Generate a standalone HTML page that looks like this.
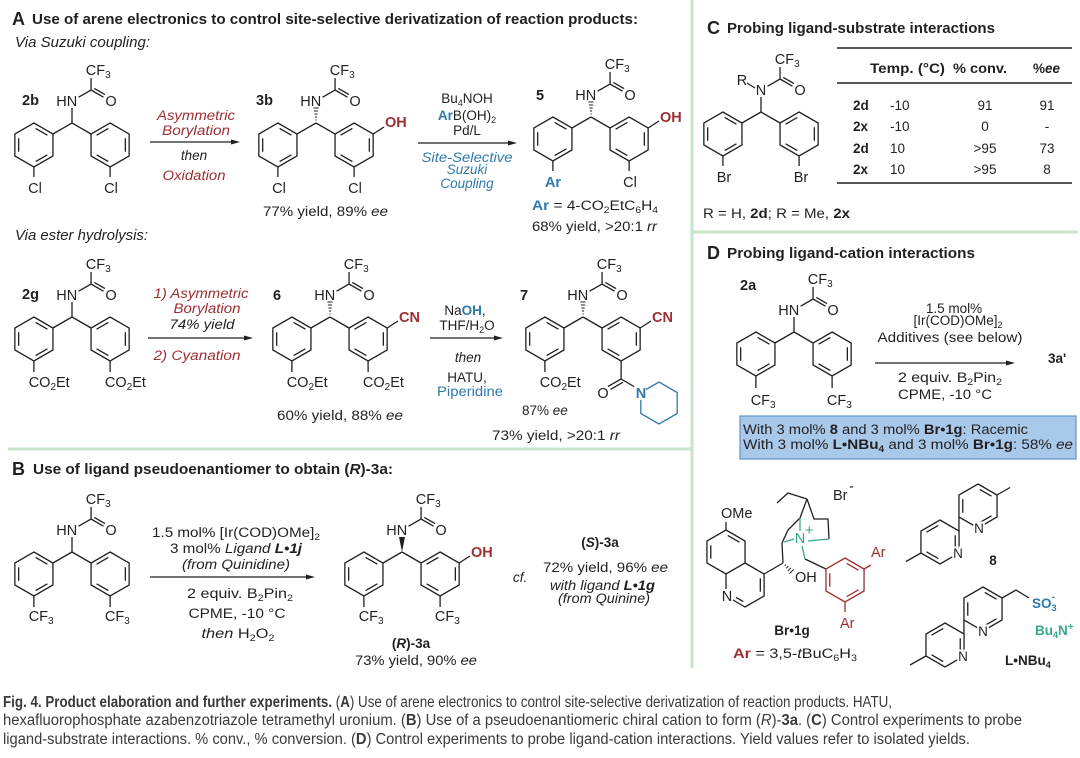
<!DOCTYPE html>
<html><head><meta charset="utf-8">
<style>
html,body{margin:0;padding:0;background:#fff;}
svg{display:block;}
text{font-family:"Liberation Sans",Arial,sans-serif;fill:#231f20;font-size:14.5px;}
.b{font-weight:bold;}
.i{font-style:italic;}
.red{fill:#9c2f33;}
.blue{fill:#2f7aab;}
.grn{fill:#35a88a;}
.c{font-size:13.5px;}
.t{font-size:14.5px;font-weight:bold;}
.L{font-size:18px;font-weight:bold;}
.cap{font-family:"Liberation Sans Narrow","Liberation Sans",sans-serif;font-size:15.5px;fill:#3a3a3a;}
.ko{stroke:#fff;stroke-width:4px;paint-order:stroke;}
</style></head><body>
<svg width="1080" height="758" viewBox="0 0 1080 758" xmlns="http://www.w3.org/2000/svg">
<defs>
<g id="hex"><polygon points="0,-22 19.05,-11 19.05,11 0,22 -19.05,11 -19.05,-11" fill="none"/></g>
<g id="rL"><polygon points="0,-22 19.05,-11 19.05,11 0,22 -19.05,11 -19.05,-11" fill="none"/><path d="M-15.24,-6.8V6.8M1.73,-16.6L13.51,-9.8M13.51,9.8L1.73,16.6" fill="none"/></g>
<g id="rR"><polygon points="0,-22 19.05,-11 19.05,11 0,22 -19.05,11 -19.05,-11" fill="none"/><path d="M15.24,-6.8V6.8M-13.51,-9.8L-1.73,-16.6M-1.73,16.6L-13.51,9.8" fill="none"/></g>
<g id="core">
<use href="#rL" x="-38.1" y="22"/>
<use href="#rR" x="38.1" y="22"/>
<path d="M0,0L-19.05,11M0,0L19.05,11M6.6,-25.8L19.05,-33L31.5,-25.8M22.3,-34.6L33,-28.4M19.05,-33V-45" fill="none"/>
</g>
<g id="hash"><path d="M-0.6,-3H0.6M-1.1,-6H1.1M-1.6,-9H1.6M-2.1,-12H2.1M-2.6,-15H2.6" fill="none"/></g>
</defs>

<rect width="1080" height="758" fill="#fff"/>

<!-- dividers -->
<g stroke="#c9e4c9" stroke-width="3" fill="none">
<path d="M692,0V668M8,449H692M692,232H1078"/>
</g>

<!-- ===== bonds (black) ===== -->
<g stroke="#231f20" stroke-width="1.3" fill="none">
<use href="#core" x="72" y="123"/>
<use href="#core" x="316" y="123"/>
<use href="#core" x="591" y="117"/>
<use href="#core" x="72" y="317"/>
<use href="#core" x="330" y="317"/>
<use href="#core" x="583" y="317"/>
<use href="#core" x="72" y="552"/>
<use href="#core" x="402" y="552"/>
<use href="#core" x="761" y="112"/>
<use href="#core" x="794" y="332"/>
<path d="M72,123V108M72,317V302M72,552V537M761,112V97M794,332V317"/>
<path d="M33.9,167V177M110.1,167V177M277.9,167V177M354.1,167V177M552.9,161V171M629.1,161V171"/>
<path d="M33.9,361V372M110.1,361V372M291.9,361V372M368.1,361V372M544.9,361V372"/>
<path d="M33.9,596V607M110.1,596V607M363.9,596V607M440.1,596V607"/>
<path d="M722.9,156V166M799.1,156V166M755.9,376V388M832.1,376V388"/>
<path d="M373.15,134L384,127M648.15,128L659,121M387.15,328L398,321M640.15,328L651,321M459.15,563L470,556"/>
<path d="M747,83L755,88"/>
<path d="M621.1,361V379M621.1,379L608,386.5M623,382.2L610.5,389.4M621.1,379L634,386.5"/>
</g>
<g stroke="#231f20" stroke-width="1">
<use href="#hash" x="316" y="123"/>
<use href="#hash" x="591" y="117"/>
<use href="#hash" x="330" y="317"/>
<use href="#hash" x="583" y="317"/>
</g>
<polygon points="402,552 399,537 405,537" fill="#231f20"/>
<path d="M646,389.5L659,382L677.2,392.5V413.5L659,424L640.8,413.5V400" stroke="#2f7aab" stroke-width="1.3" fill="none"/>

<!-- arrows -->
<g stroke="#231f20" stroke-width="1.2">
<path d="M150,142H233M418,143H510M148,338H246M430,338H496M150,577H308M875,363H1008"/>
</g>
<g fill="#231f20">
<polygon points="240,142 231,139.5 231,144.5"/>
<polygon points="517,143 508,140.5 508,145.5"/>
<polygon points="253,338 244,335.5 244,340.5"/>
<polygon points="503,338 494,335.5 494,340.5"/>
<polygon points="315,577 306,574.5 306,579.5"/>
<polygon points="1015,363 1006,360.5 1006,365.5"/>
</g>

<!-- ===== Panel A text ===== -->
<text x="12" y="25" class="L">A</text>
<text x="32" y="24" class="t" textLength="606" lengthAdjust="spacingAndGlyphs">Use of arene electronics to control site-selective derivatization of reaction products:</text>
<text x="15" y="47" class="i" font-size="14" textLength="135" lengthAdjust="spacingAndGlyphs">Via Suzuki coupling:</text>

<!-- 2b -->
<text x="22" y="105" class="b">2b</text>
<text x="77.2" y="106" text-anchor="end">HN</text>
<text x="111" y="106" text-anchor="middle">O</text>
<text x="85.8" y="75">CF<tspan font-size="10" dy="3">3</tspan></text>
<text x="35" y="193" text-anchor="middle">Cl</text>
<text x="111" y="193" text-anchor="middle">Cl</text>

<text x="196" y="120" text-anchor="middle" class="c i red" textLength="78" lengthAdjust="spacingAndGlyphs">Asymmetric</text>
<text x="196" y="135" text-anchor="middle" class="c i red" textLength="68" lengthAdjust="spacingAndGlyphs">Borylation</text>
<text x="194" y="160" text-anchor="middle" class="c i">then</text>
<text x="194" y="180" text-anchor="middle" class="c i red" textLength="63" lengthAdjust="spacingAndGlyphs">Oxidation</text>

<!-- 3b -->
<text x="256" y="105" class="b">3b</text>
<text x="321.2" y="106" text-anchor="end">HN</text>
<text x="355" y="106" text-anchor="middle">O</text>
<text x="329.8" y="75">CF<tspan font-size="10" dy="3">3</tspan></text>
<text x="279" y="193" text-anchor="middle">Cl</text>
<text x="355" y="193" text-anchor="middle">Cl</text>
<text x="385" y="127" class="b red">OH</text>
<text x="263" y="216" class="c" textLength="125" lengthAdjust="spacingAndGlyphs">77% yield, 89% <tspan class="i">ee</tspan></text>

<text x="467" y="103" text-anchor="middle" class="c">Bu<tspan font-size="9" dy="3">4</tspan><tspan dy="-3">NOH</tspan></text>
<text x="467" y="120" text-anchor="middle" class="c"><tspan class="b blue">Ar</tspan>B(OH)<tspan font-size="9" dy="3">2</tspan></text>
<text x="467" y="135" text-anchor="middle" class="c">Pd/L</text>
<text x="467" y="162" text-anchor="middle" class="c i blue" textLength="91" lengthAdjust="spacingAndGlyphs">Site-Selective</text>
<text x="467" y="174" text-anchor="middle" class="c i blue">Suzuki</text>
<text x="467" y="188" text-anchor="middle" class="c i blue">Coupling</text>

<!-- 5 -->
<text x="536" y="100" class="b">5</text>
<text x="596.2" y="100" text-anchor="end">HN</text>
<text x="630" y="100" text-anchor="middle">O</text>
<text x="604.8" y="69">CF<tspan font-size="10" dy="3">3</tspan></text>
<text x="553" y="187" text-anchor="middle" class="b blue">Ar</text>
<text x="630" y="187" text-anchor="middle">Cl</text>
<text x="660" y="122" class="b red">OH</text>
<text x="532" y="210" class="c" textLength="126" lengthAdjust="spacingAndGlyphs"><tspan class="b blue">Ar</tspan> = 4-CO<tspan font-size="9" dy="3">2</tspan><tspan dy="-3">EtC</tspan><tspan font-size="9" dy="3">6</tspan><tspan dy="-3">H</tspan><tspan font-size="9" dy="3">4</tspan></text>
<text x="532" y="231" class="c" textLength="125" lengthAdjust="spacingAndGlyphs">68% yield, &gt;20:1 <tspan class="i">rr</tspan></text>

<!-- Row 2 -->
<text x="15" y="240" class="i" font-size="14" textLength="133" lengthAdjust="spacingAndGlyphs">Via ester hydrolysis:</text>

<text x="22" y="299" class="b">2g</text>
<text x="77.2" y="300" text-anchor="end">HN</text>
<text x="111" y="300" text-anchor="middle">O</text>
<text x="85.8" y="269">CF<tspan font-size="10" dy="3">3</tspan></text>
<text x="28.7" y="387">CO<tspan font-size="10" dy="3">2</tspan><tspan dy="-3">Et</tspan></text>
<text x="104.9" y="387">CO<tspan font-size="10" dy="3">2</tspan><tspan dy="-3">Et</tspan></text>

<text x="201" y="298" text-anchor="middle" class="c i red" textLength="95" lengthAdjust="spacingAndGlyphs">1) Asymmetric</text>
<text x="207" y="313" text-anchor="middle" class="c i red" textLength="67" lengthAdjust="spacingAndGlyphs">Borylation</text>
<text x="202" y="329" text-anchor="middle" class="c i" textLength="65" lengthAdjust="spacingAndGlyphs">74% yield</text>
<text x="197" y="360" text-anchor="middle" class="c i red" textLength="87" lengthAdjust="spacingAndGlyphs">2) Cyanation</text>

<text x="273" y="300" class="b">6</text>
<text x="335.2" y="300" text-anchor="end">HN</text>
<text x="369" y="300" text-anchor="middle">O</text>
<text x="343.8" y="269">CF<tspan font-size="10" dy="3">3</tspan></text>
<text x="286.7" y="387">CO<tspan font-size="10" dy="3">2</tspan><tspan dy="-3">Et</tspan></text>
<text x="362.9" y="387">CO<tspan font-size="10" dy="3">2</tspan><tspan dy="-3">Et</tspan></text>
<text x="399" y="322" class="b red">CN</text>
<text x="277" y="420" class="c" textLength="126" lengthAdjust="spacingAndGlyphs">60% yield, 88% <tspan class="i">ee</tspan></text>

<text x="465" y="315" text-anchor="middle" class="c">Na<tspan class="b blue">OH</tspan>,</text>
<text x="467" y="330" text-anchor="middle" class="c">THF/H<tspan font-size="9" dy="3">2</tspan><tspan dy="-3">O</tspan></text>
<text x="468" y="362" text-anchor="middle" class="c i">then</text>
<text x="467" y="382" text-anchor="middle" class="c">HATU,</text>
<text x="470" y="396" text-anchor="middle" class="c blue" textLength="66" lengthAdjust="spacingAndGlyphs">Piperidine</text>

<text x="520" y="300" class="b">7</text>
<text x="588.2" y="300" text-anchor="end">HN</text>
<text x="622" y="300" text-anchor="middle">O</text>
<text x="596.8" y="269">CF<tspan font-size="10" dy="3">3</tspan></text>
<text x="539.7" y="387">CO<tspan font-size="10" dy="3">2</tspan><tspan dy="-3">Et</tspan></text>
<text x="652" y="322" class="b red">CN</text>
<text x="603" y="398" text-anchor="middle">O</text>
<text x="641" y="398" text-anchor="middle" class="b blue">N</text>
<text x="522" y="415" class="c">87% <tspan class="i">ee</tspan></text>
<text x="492" y="440" class="c" textLength="128" lengthAdjust="spacingAndGlyphs">73% yield, &gt;20:1 <tspan class="i">rr</tspan></text>

<!-- ===== Panel B ===== -->
<text x="12" y="475" class="L">B</text>
<text x="33" y="474" class="t" textLength="360" lengthAdjust="spacingAndGlyphs">Use of ligand pseudoenantiomer to obtain (<tspan font-style="italic">R</tspan>)-3a:</text>

<text x="77.2" y="535" text-anchor="end">HN</text>
<text x="111" y="535" text-anchor="middle">O</text>
<text x="85.8" y="504">CF<tspan font-size="10" dy="3">3</tspan></text>
<text x="28.7" y="621">CF<tspan font-size="10" dy="3">3</tspan></text>
<text x="104.9" y="621">CF<tspan font-size="10" dy="3">3</tspan></text>

<text x="236" y="537" text-anchor="middle" class="c" textLength="168" lengthAdjust="spacingAndGlyphs">1.5 mol% [Ir(COD)OMe]<tspan font-size="9" dy="3">2</tspan></text>
<text x="236" y="553" text-anchor="middle" class="c" textLength="132" lengthAdjust="spacingAndGlyphs">3 mol% <tspan class="i">Ligand</tspan> <tspan class="i b">L•1j</tspan></text>
<text x="236" y="569" text-anchor="middle" class="c i" textLength="108" lengthAdjust="spacingAndGlyphs">(from Quinidine)</text>
<text x="240" y="598" text-anchor="middle" class="c" textLength="106" lengthAdjust="spacingAndGlyphs">2 equiv. B<tspan font-size="9" dy="3">2</tspan><tspan dy="-3">Pin</tspan><tspan font-size="9" dy="3">2</tspan></text>
<text x="237" y="618" text-anchor="middle" class="c" textLength="97" lengthAdjust="spacingAndGlyphs">CPME, -10 °C</text>
<text x="238" y="638" text-anchor="middle" class="c" textLength="73" lengthAdjust="spacingAndGlyphs"><tspan class="i">then</tspan> H<tspan font-size="9" dy="3">2</tspan><tspan dy="-3">O</tspan><tspan font-size="9" dy="3">2</tspan></text>

<text x="407.2" y="535" text-anchor="end">HN</text>
<text x="441" y="535" text-anchor="middle">O</text>
<text x="415.8" y="504">CF<tspan font-size="10" dy="3">3</tspan></text>
<text x="358.7" y="621">CF<tspan font-size="10" dy="3">3</tspan></text>
<text x="434.9" y="621">CF<tspan font-size="10" dy="3">3</tspan></text>
<text x="471" y="557" class="b red">OH</text>
<text x="411" y="648" text-anchor="middle" class="c b">(<tspan class="i">R</tspan>)-3a</text>
<text x="355" y="665" class="c" textLength="122" lengthAdjust="spacingAndGlyphs">73% yield, 90% <tspan class="i">ee</tspan></text>

<text x="513" y="582" class="c i">cf.</text>
<text x="600" y="547" text-anchor="middle" class="c b">(<tspan class="i">S</tspan>)-3a</text>
<text x="543" y="572" class="c" textLength="125" lengthAdjust="spacingAndGlyphs">72% yield, 96% <tspan class="i">ee</tspan></text>
<text x="550" y="590" class="c i" textLength="105" lengthAdjust="spacingAndGlyphs">with ligand <tspan class="b">L•1g</tspan></text>
<text x="558" y="603" class="c i" textLength="92" lengthAdjust="spacingAndGlyphs">(from Quinine)</text>

<!-- ===== Panel C ===== -->
<text x="707" y="34" class="L">C</text>
<text x="727" y="33" class="t" textLength="268" lengthAdjust="spacingAndGlyphs">Probing ligand-substrate interactions</text>
<text x="742" y="85" text-anchor="middle">R</text>
<text x="761" y="95" text-anchor="middle">N</text>
<text x="800" y="95" text-anchor="middle">O</text>
<text x="774.8" y="64">CF<tspan font-size="10" dy="3">3</tspan></text>
<text x="724" y="182" text-anchor="middle">Br</text>
<text x="801" y="182" text-anchor="middle">Br</text>

<g stroke="#231f20" stroke-width="1.5"><path d="M837,48H1072M837,83H1072M837,183H1072"/></g>
<text x="870" y="73" class="c b" textLength="75" lengthAdjust="spacingAndGlyphs">Temp. (°C)</text>
<text x="953" y="73" class="c b" textLength="54" lengthAdjust="spacingAndGlyphs">% conv.</text>
<text x="1033" y="73" class="c b" textLength="27" lengthAdjust="spacingAndGlyphs">%<tspan class="i">ee</tspan></text>
<text x="853" y="110" class="c b">2d</text><text x="890" y="110" class="c">-10</text><text x="985" y="110" class="c" text-anchor="middle">91</text><text x="1047" y="110" class="c" text-anchor="middle">91</text>
<text x="853" y="131" class="c b">2x</text><text x="890" y="131" class="c">-10</text><text x="985" y="131" class="c" text-anchor="middle">0</text><text x="1047" y="131" class="c" text-anchor="middle">-</text>
<text x="853" y="153" class="c b">2d</text><text x="890" y="153" class="c">10</text><text x="985" y="153" class="c" text-anchor="middle">&gt;95</text><text x="1047" y="153" class="c" text-anchor="middle">73</text>
<text x="853" y="174" class="c b">2x</text><text x="890" y="174" class="c">10</text><text x="985" y="174" class="c" text-anchor="middle">&gt;95</text><text x="1047" y="174" class="c" text-anchor="middle">8</text>
<text x="703" y="218" class="c" textLength="147" lengthAdjust="spacingAndGlyphs">R = H, <tspan class="b">2d</tspan>; R = Me, <tspan class="b">2x</tspan></text>

<!-- ===== Panel D ===== -->
<text x="707" y="259" class="L">D</text>
<text x="727" y="258" class="t" textLength="248" lengthAdjust="spacingAndGlyphs">Probing ligand-cation interactions</text>
<text x="740" y="290" class="b">2a</text>
<text x="799.2" y="315" text-anchor="end">HN</text>
<text x="833" y="315" text-anchor="middle">O</text>
<text x="807.8" y="284">CF<tspan font-size="10" dy="3">3</tspan></text>
<text x="750.7" y="405">CF<tspan font-size="10" dy="3">3</tspan></text>
<text x="826.9" y="405">CF<tspan font-size="10" dy="3">3</tspan></text>

<text x="954" y="313" text-anchor="middle" class="c">1.5 mol%</text>
<text x="958" y="325" text-anchor="middle" class="c">[Ir(COD)OMe]<tspan font-size="9" dy="3">2</tspan></text>
<text x="950" y="342" text-anchor="middle" class="c" textLength="145" lengthAdjust="spacingAndGlyphs">Additives (see below)</text>
<text x="950" y="382" text-anchor="middle" class="c" textLength="104" lengthAdjust="spacingAndGlyphs">2 equiv. B<tspan font-size="9" dy="3">2</tspan><tspan dy="-3">Pin</tspan><tspan font-size="9" dy="3">2</tspan></text>
<text x="898" y="399" class="c" textLength="94" lengthAdjust="spacingAndGlyphs">CPME, -10 °C</text>
<text x="1048" y="363" class="c b">3a'</text>

<rect x="740" y="416" width="336" height="43" fill="#a9c9ea" stroke="#5f93c8" stroke-width="1.2"/>
<text x="743" y="434" class="c" textLength="285" lengthAdjust="spacingAndGlyphs">With 3 mol% <tspan class="b">8</tspan> and 3 mol% <tspan class="b">Br•1g</tspan>: Racemic</text>
<text x="743" y="449" class="c" textLength="330" lengthAdjust="spacingAndGlyphs">With 3 mol% <tspan class="b">L•NBu<tspan font-size="9" dy="3">4</tspan></tspan><tspan dy="-3"> and 3 mol% </tspan><tspan class="b">Br•1g</tspan>: 58% <tspan class="i">ee</tspan></text>

<!-- Br•1g -->
<g stroke="#231f20" stroke-width="1.3" fill="none">
<polygon points="726,530 745.05,541 745.05,563 726,574 706.95,563 706.95,541"/>
<path d="M710.8,545.2V558.8M727.7,535.4L739.5,542.2"/>
<path d="M745.05,563L764.1,574V596L745.05,607L733,600M726,589V574"/>
<path d="M760.3,578.2V591.8M743.3,601.6L736,597.4"/>
<path d="M726,530V522"/>
<path d="M764.1,574L783,563M783,563L782,543"/>
<path d="M777,503L788,493L807,499M807,499L800,518M807,499L814,519L828,519L829,539M782,543L788,530L800,518"/>
<path d="M805,559L826,569"/>
</g>
<g stroke="#231f20" stroke-width="1" fill="none">
<path d="M784.6,565.8L785.8,564.6M786.1,568.3L788.3,566.1M787.8,571L791,567.8M789.5,573.6L793.6,569.5"/>
</g>
<g stroke="#35a88a" stroke-width="1.3" fill="none">
<path d="M784,542L794,539M800,518V531M829,539L808,541M802,546L805,559"/>
</g>
<g stroke="#9c2f33" stroke-width="1.3" fill="none">
<use href="#rL" x="845" y="580"/>
<path d="M864.05,569L871,565M845,602V612"/>
</g>
<text x="721" y="518">OMe</text>
<text x="727" y="601" text-anchor="middle">N</text>
<text x="795" y="582">OH</text>
<text x="800" y="543" text-anchor="middle" class="grn">N</text>
<text x="805" y="535" font-size="10" class="grn">+</text>
<text x="833" y="500">Br</text>
<text x="849" y="491" font-size="11">-</text>
<text x="871" y="557" class="red">Ar</text>
<text x="840" y="628" class="red">Ar</text>
<text x="792" y="635" text-anchor="middle" class="b c">Br•1g</text>
<text x="733" y="658" class="c" textLength="124" lengthAdjust="spacingAndGlyphs"><tspan class="b red">Ar</tspan> = 3,5-<tspan class="i">t</tspan>BuC<tspan font-size="9" dy="3">6</tspan><tspan dy="-3">H</tspan><tspan font-size="9" dy="3">3</tspan></text>

<!-- 8 and L•NBu4 -->
<g stroke="#231f20" stroke-width="1.3" fill="none">
<use href="#rL" x="978" y="506"/>
<use href="#rR" x="940" y="542"/>
<path d="M958.95,517V531M997.05,495L1010,487.5M920.95,553L906,561.5"/>
<use href="#rL" x="983" y="609"/>
<use href="#rR" x="945" y="645"/>
<path d="M963.95,620V634M1002.05,598L1016,590L1029,598M925.95,656L910,665"/>
</g>
<text x="979" y="533" text-anchor="middle" class="ko c">N</text>
<text x="958" y="558" text-anchor="middle" class="ko c">N</text>
<text x="993" y="565" text-anchor="middle" class="b c">8</text>
<text x="983" y="636" text-anchor="middle" class="ko c">N</text>
<text x="963" y="661" text-anchor="middle" class="ko c">N</text>
<text x="1032" y="608" class="b blue c">SO<tspan font-size="9" dy="3">3</tspan><tspan font-size="10" dx="-5" dy="-11">-</tspan></text>
<text x="1035" y="635" class="b grn c">Bu<tspan font-size="9" dy="3">4</tspan><tspan dy="-3">N</tspan><tspan font-size="10" dy="-5">+</tspan></text>
<text x="1005" y="665" class="b c">L•NBu<tspan font-size="9" dy="3">4</tspan></text>

<!-- ===== Caption ===== -->
<text x="3" y="707" class="cap" textLength="889" lengthAdjust="spacingAndGlyphs"><tspan font-weight="bold">Fig. 4. Product elaboration and further experiments.</tspan> (<tspan font-weight="bold">A</tspan>) Use of arene electronics to control site-selective derivatization of reaction products. HATU,</text>
<text x="3" y="725" class="cap" textLength="1019" lengthAdjust="spacingAndGlyphs">hexafluorophosphate azabenzotriazole tetramethyl uronium. (<tspan font-weight="bold">B</tspan>) Use of a pseudoenantiomeric chiral cation to form (<tspan font-style="italic">R</tspan>)-<tspan font-weight="bold">3a</tspan>. (<tspan font-weight="bold">C</tspan>) Control experiments to probe</text>
<text x="3" y="744" class="cap" textLength="967" lengthAdjust="spacingAndGlyphs">ligand-substrate interactions. % conv., % conversion. (<tspan font-weight="bold">D</tspan>) Control experiments to probe ligand-cation interactions. Yield values refer to isolated yields.</text>
</svg>
</body></html>
